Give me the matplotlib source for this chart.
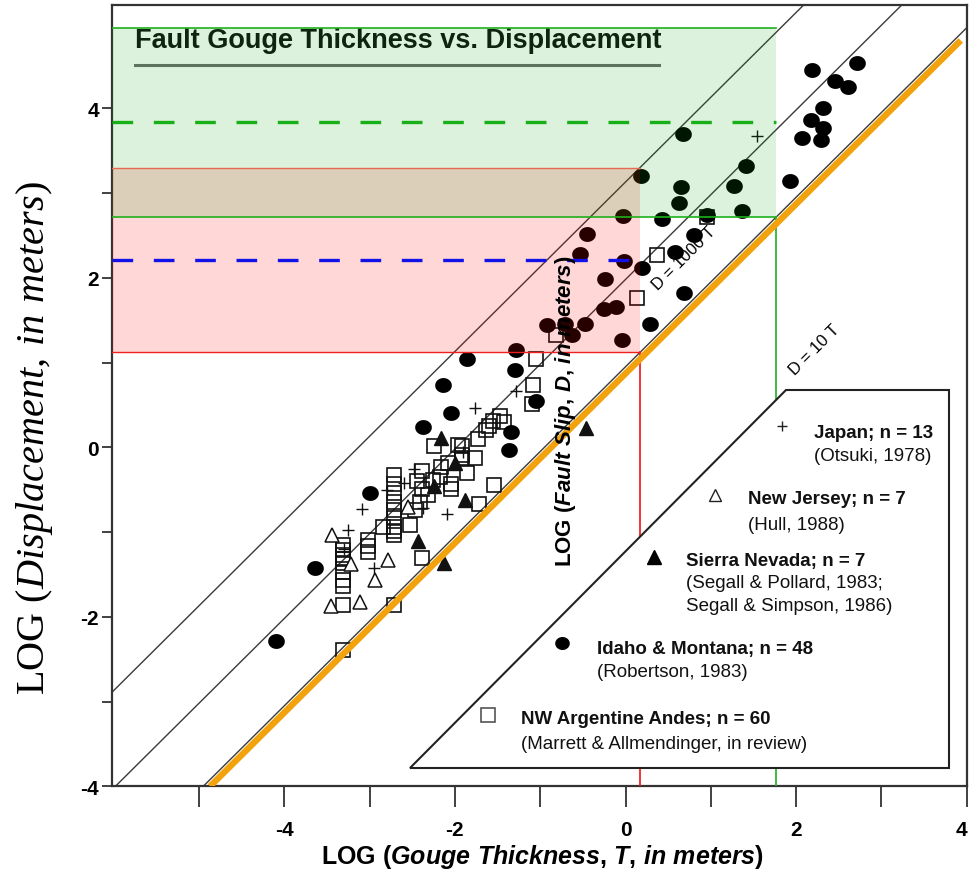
import numpy as np
import matplotlib
matplotlib.use("Agg")
import matplotlib.pyplot as plt
from matplotlib.path import Path
from matplotlib.patches import Polygon, Rectangle
from matplotlib.transforms import offset_copy

plt.rcParams["font.family"] = ["Liberation Sans", "DejaVu Sans"]
plt.rcParams["axes.unicode_minus"] = False
plt.rcParams["mathtext.fontset"] = "custom"
plt.rcParams["mathtext.it"] = "Liberation Sans:italic:bold"
plt.rcParams["mathtext.sf"] = "Liberation Serif:italic"
plt.rcParams["mathtext.rm"] = "Liberation Sans:bold"

# Idaho & Montana (Robertson, 1983), filled circles
idaho_x = [2.19, 2.71, 2.46, 2.61, 2.31, 2.17, 2.31, 2.07, 2.29, 0.67,
           1.41, 1.93, 0.65, 1.27, 0.63, 1.36, 0.96, 0.80, 0.18, 0.43,
           -0.03, -0.45, -0.53, -0.02, 0.19, 0.58, -0.24, 0.68, -0.25, -0.11,
           0.29, -0.92, -0.71, -0.47, -0.63, -0.04, -1.28, -1.86, -1.29, -2.14,
           -1.05, -2.04, -2.37, -1.34, -1.37, -2.99, -3.64, -4.10]
idaho_y = [4.45, 4.53, 4.32, 4.25, 4.00, 3.86, 3.77, 3.65, 3.62, 3.70,
           3.32, 3.14, 3.07, 3.08, 2.88, 2.79, 2.74, 2.50, 3.20, 2.69,
           2.73, 2.52, 2.28, 2.20, 2.11, 2.30, 1.98, 1.82, 1.63, 1.65,
           1.45, 1.44, 1.46, 1.45, 1.32, 1.26, 1.15, 1.04, 0.91, 0.73,
           0.55, 0.41, 0.24, 0.18, -0.03, -0.54, -1.42, -2.29]

# NW Argentine Andes (Marrett & Allmendinger), open squares
andes_x = [0.96, 0.37, 0.13, -0.81, -1.05, -1.09, -1.10, -1.47, -1.55, -1.64,
           -1.73, -1.92, -2.24, -1.77, -1.92, -2.08, -2.39, -2.71, -1.86, -2.18,
           -2.39, -2.31, -2.41, -2.04, -1.54, -1.72, -2.71, -2.71, -2.71, -2.71,
           -2.71, -2.71, -2.53, -2.47, -2.84, -3.02, -3.02, -3.31, -3.31, -3.31,
           -3.31, -3.31, -3.31, -3.31, -2.39, -2.71, -3.31, -1.96, -2.26, -2.16,
           -2.04, -1.92, -1.43, -2.71, -3.31, -3.31, -2.71, -3.02, -1.60, -2.45]
andes_y = [2.72, 2.27, 1.76, 1.32, 1.04, 0.74, 0.51, 0.37, 0.31, 0.20,
           0.10, 0.01, 0.01, -0.13, -0.13, -0.19, -0.28, -0.33, -0.30, -0.35,
           -0.49, -0.56, -0.64, -0.49, -0.44, -0.67, -0.54, -0.64, -0.74, -0.84,
           -0.94, -1.04, -0.92, -0.74, -0.94, -1.09, -1.23, -1.15, -1.27, -1.37,
           -1.47, -1.57, -1.64, -1.86, -1.31, -1.86, -2.39, 0.03, -0.39, -0.23,
           -0.43, -0.09, 0.30, -0.43, -1.21, -1.32, -0.99, -1.16, 0.25, -0.40]

# Japan (Otsuki, 1978), plus signs
japan_x = [1.54, -1.28, -1.77, -2.48, -2.80, -3.09, -3.25, -2.09, -2.37,
           -2.60, -1.90, -3.30, -2.95]
japan_y = [3.67, 0.66, 0.46, -0.26, -0.50, -0.73, -0.98, -0.79, -0.72,
           -0.42, -0.05, -1.20, -1.42]

# New Jersey (Hull, 1988), open triangles
nj_x = [-3.44, -2.78, -2.94, -3.45, -3.11, -3.22, -2.55]
nj_y = [-1.04, -1.33, -1.57, -1.87, -1.83, -1.38, -0.70]

# Sierra Nevada (Segall & Pollard; Segall & Simpson), filled triangles
sierra_x = [-2.16, -2.00, -2.24, -1.88, -2.43, -2.13, -0.46]
sierra_y = [0.11, -0.19, -0.46, -0.62, -1.11, -1.36, 0.23]

# reference lines: log D = log T + offset
line_offsets = [3.13, 1.98, 0.95]
orange_offset = 0.87

# shaded ranges (log displacement) and matching thickness limits
green_band = (2.714, 4.948)
green_dash = 3.835
green_t = 1.76
red_band = (1.121, 3.296)
blue_dash = 2.21
red_t = 0.173

XLIM = (-6.02, 3.99)
YLIM = (-4.0, 5.222)

# ellipse marker for the filled circles (slightly wider than tall)
th = np.linspace(0, 2 * np.pi, 60)
ellipse = Path(np.column_stack([1.12 * np.cos(th), np.sin(th)]), closed=True)

fig = plt.figure(figsize=(9.7, 8.79), dpi=100)
ax = fig.add_axes([112 / 970, 1 - 787.3 / 879, (966.7 - 112) / 970, (787.3 - 5.7) / 879])
ax.set_xlim(*XLIM)
ax.set_ylim(*YLIM)

# title inside the plot
ax.text(-5.75, 4.81, "Fault Gouge Thickness vs. Displacement", fontsize=19.5,
        fontweight="bold", ha="left", va="center", color="#111111", zorder=1)
ax.plot([-5.75, 0.39], [4.51, 4.51], color="#6e6e6e", lw=2.2, zorder=1)

# diagonal reference lines
xs = np.array([-7.0, 5.0])
for off in line_offsets:
    ax.plot(xs, xs + off, color="#3a3a3a", lw=1.0, zorder=2)
xo = np.array([-4.87, 3.93])
ax.plot(xo, xo + orange_offset, color="#f2a20c", lw=4.6, solid_capstyle="butt", zorder=4)

# data
ax.plot(andes_x, andes_y, "s", ms=10.5, mfc="none", mec="#111111", mew=1.2, zorder=2)
ax.plot(japan_x, japan_y, "+", ms=8, mec="#111111", mew=1.0, zorder=2)
ax.plot(nj_x, nj_y, "^", ms=10, mfc="white", mec="#111111", mew=1.1, zorder=2)
ax.plot(sierra_x, sierra_y, "^", ms=10, mfc="#111111", mec="#111111", zorder=2)
ax.plot(idaho_x, idaho_y, marker=ellipse, ls="none", ms=12, mfc="black", mec="none", zorder=2)

# shaded bands
x0 = XLIM[0]
ax.add_patch(Rectangle((x0, red_band[0]), red_t - x0, red_band[1] - red_band[0],
                       facecolor=(1, 0, 0), alpha=0.155, edgecolor="none", zorder=3))
ax.add_patch(Rectangle((x0, green_band[0]), green_t - x0, green_band[1] - green_band[0],
                       facecolor=(0, 0.63, 0), alpha=0.137, edgecolor="none", zorder=3))
ax.plot([x0, red_t], [red_band[0]] * 2, color="#ee2020", lw=1.0, zorder=3)
ax.plot([x0, red_t], [red_band[1]] * 2, color="#e86a50", lw=1.0, zorder=3)
ax.plot([red_t, red_t], [YLIM[0], red_band[0]], color="#ee1515", lw=1.2, zorder=3)
ax.plot([x0, green_t], [green_band[0]] * 2, color="#1eb01e", lw=1.2, zorder=3)
ax.plot([x0, green_t], [green_band[1]] * 2, color="#1eb01e", lw=1.2, zorder=3)
ax.plot([green_t, green_t], [YLIM[0], green_band[0]], color="#1eb01e", lw=1.2, zorder=3)
ax.plot([x0, green_t], [green_dash] * 2, color="#18b018", lw=2.4, ls=(0, (6.2, 6.2)), zorder=3)
ax.plot([x0, red_t], [blue_dash] * 2, color="#1212e8", lw=2.4, ls=(0, (6.2, 6.2)), zorder=3)

# line labels
ax.text(-0.70, 0.44, r"LOG ($\mathit{Fault\ Slip{,}\ D{,}\ in\ meters}$)", fontsize=16,
        fontweight="bold", rotation=90, ha="center", va="center", zorder=5)
ax.text(0.68, 2.24, "D = 1000 T", fontsize=12, rotation=45, ha="center", va="center", zorder=5)
ax.text(2.22, 1.16, "D = 10 T", fontsize=12, rotation=45, ha="center", va="center", zorder=5)

# legend box
ax.add_patch(Polygon([(1.88, 0.676), (3.79, 0.676), (3.79, -3.78), (-2.53, -3.78)],
                     closed=True, facecolor="white", edgecolor="#222222", lw=1.5, zorder=5))
ax.plot(1.84, 0.25, "+", ms=7, mec="#222222", mew=1.0, zorder=6)
ax.plot(1.05, -0.56, "^", ms=8.5, mfc="white", mec="#222222", mew=1.0, zorder=6)
ax.plot(0.33, -1.29, "^", ms=9.5, mfc="black", mec="black", zorder=6)
ax.plot(-0.75, -2.31, marker=ellipse, ls="none", ms=10.5, mfc="black", mec="none", zorder=6)
ax.plot(-1.61, -3.16, "s", ms=10, mfc="white", mec="#555555", mew=1.2, zorder=6)

legend_rows = [
    (2.21, 0.18, "Japan; n = 13", "bold"),
    (2.21, -0.10, "(Otsuki, 1978)", "normal"),
    (1.44, -0.61, "New Jersey; n = 7", "bold"),
    (1.44, -0.91, "(Hull, 1988)", "normal"),
    (0.71, -1.33, "Sierra Nevada; n = 7", "bold"),
    (0.71, -1.59, "(Segall & Pollard, 1983;", "normal"),
    (0.71, -1.87, "Segall & Simpson, 1986)", "normal"),
    (-0.34, -2.37, "Idaho & Montana; n = 48", "bold"),
    (-0.34, -2.64, "(Robertson, 1983)", "normal"),
    (-1.22, -3.20, "NW Argentine Andes; n = 60", "bold"),
    (-1.22, -3.49, "(Marrett & Allmendinger, in review)", "normal"),
]
for lx, ly, txt, wt in legend_rows:
    ax.text(lx, ly, txt, fontsize=13.5, fontweight=wt, ha="left", va="center",
            color="#111111", zorder=6)

# axes styling
for sp in ax.spines.values():
    sp.set_linewidth(1.6)
    sp.set_color("#333333")
ax.set_xticks([-4, -2, 0, 2, 4])
ax.set_xticks([-5, -3, -1, 1, 3], minor=True)
ax.set_yticks([-4, -2, 0, 2, 4])
ax.set_yticks([-3, -1, 1, 3], minor=True)
ax.tick_params(axis="x", which="both", direction="out", length=15, width=1.3,
               color="#333333", pad=9, labelsize=15)
ax.tick_params(axis="y", which="both", direction="out", length=7, width=1.3,
               color="#333333", pad=2.5, labelsize=15)
for lab in ax.get_xticklabels() + ax.get_yticklabels():
    lab.set_fontweight("bold")
# keep the last x label inside the figure edge
last = ax.get_xticklabels()[-1]
last.set_transform(offset_copy(last.get_transform(), fig=fig, x=-5, units="dots"))

fig.text(543 / 970, 1 - 857 / 879, r"LOG ($\mathit{Gouge\ Thickness{,}\ T{,}\ in\ meters}$)",
         fontsize=18, fontweight="bold", ha="center", va="center")
fig.text(35 / 970, 1 - 438 / 879, r"LOG ($\mathsf{Displacement{,}\ in\ meters}$)",
         fontsize=29, family="Liberation Serif", rotation=90, ha="center", va="center")

fig.savefig("out.png", dpi=100)
